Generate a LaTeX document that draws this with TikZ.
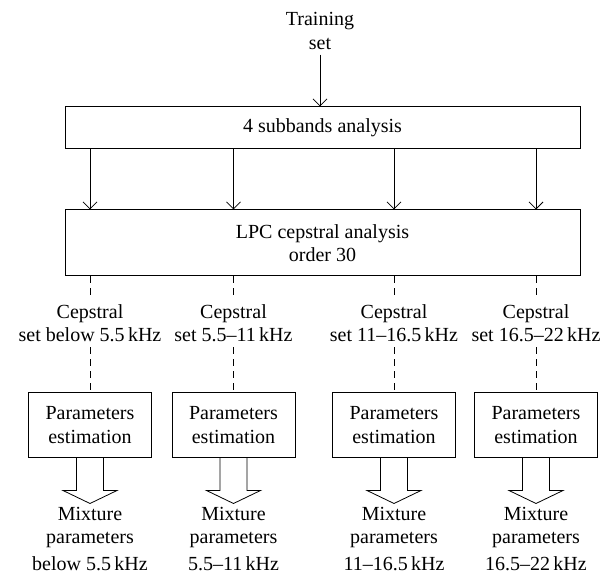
\documentclass[tikz,border=0pt]{standalone}
\usepackage{fontspec}
\setmainfont{Liberation Serif}
\usetikzlibrary{arrows.meta,calc}
\begin{document}
\begin{tikzpicture}
  [x=1pt,y=-1pt,
   every node/.style={font=\fontsize{20}{23.5}\selectfont,align=center,inner sep=0pt},
   block/.style={draw,line width=1pt},
   tag/.style={inner ysep=5pt},
   link/.style={line width=.8pt,-{Straight Barb[length=7pt,width=14pt]}},
   tap/.style={line width=.8pt,dash pattern=on 7pt off 5pt},
   fat/.style={line width=.8pt}]
\useasboundingbox (0,0) rectangle (614,577);

\node (train)[tag] at (320,31) {Training\\set};
\node (sub)[block,minimum width=515pt,minimum height=42pt] at (322.5,128) {4 subbands analysis};
\node (lpc)[block,minimum width=515pt,minimum height=66pt] at (322.5,243) {LPC cepstral analysis\\order 30};

\node (cep1)[tag] at (90,323) {Cepstral\\set below 5.5\,kHz};
\node (cep2)[tag] at (233.5,323) {Cepstral\\set 5.5–11\,kHz};
\node (cep3)[tag] at (394,323) {Cepstral\\set 11–16.5\,kHz};
\node (cep4)[tag] at (536,323) {Cepstral\\set 16.5–22\,kHz};

\foreach \i/\x in {1/90,2/233.5,3/394,4/536}
  \node (est\i)[block,minimum width=123pt,minimum height=65pt] at (\x,425) {Parameters\\estimation};

\node (mix1)[anchor=north] at (90,507) {Mixture\\parameters\\[3pt]below 5.5\,kHz};
\node (mix2)[anchor=north] at (233.5,507) {Mixture\\parameters\\[3pt]5.5–11\,kHz};
\node (mix3)[anchor=north] at (394,507) {Mixture\\parameters\\[3pt]11–16.5\,kHz};
\node (mix4)[anchor=north] at (536,507) {Mixture\\parameters\\[3pt]16.5–22\,kHz};

\draw[link] (train) -- (train |- sub.north);
\foreach \i in {1,...,4}
  {
  \draw[link] (sub.south -| cep\i) -- (lpc.north -| cep\i);
  \draw[tap] (lpc.south -| cep\i) -- (cep\i);
  \draw[tap] (cep\i) -- (est\i);
  \draw[fat] ([xshift=-13.5pt]est\i.south) -- ++(0,32.5) -- ++(-13.5,0)
    -- ($(est\i.south)+(0,45.5)$) -- ++(27,-13) -- ++(-13.5,0) -- ++(0,-32.5);
  }
\end{tikzpicture}
\end{document}
